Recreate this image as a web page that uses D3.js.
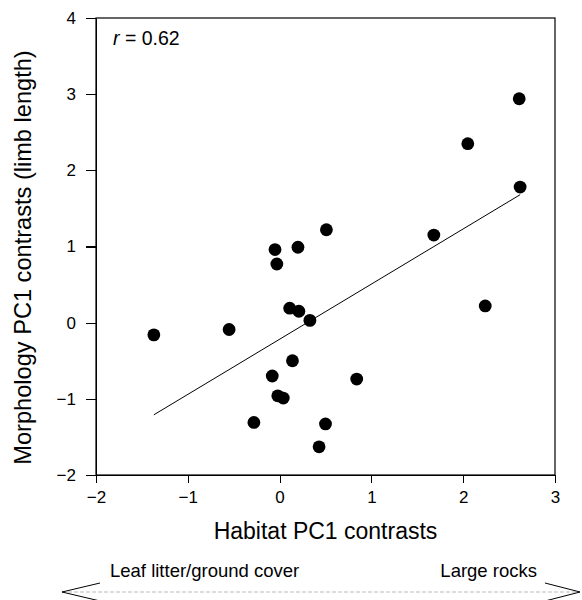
<!DOCTYPE html>
<html lang="en">
<head>
	<meta charset="utf-8">
	<title>habitat vs morphology contrasts</title>
	<script src="https://d3js.org/d3.v7.min.js"></script>
	<style type="text/css">
		body { margin: 0; background: #fff; }
		text { font-family: "Liberation Sans", Arial, sans-serif; fill: #000; }
		.Axis path, .Axis line { fill: none; stroke: #000; stroke-width: 1.2; shape-rendering: crispEdges; }
	</style>
</head>
<body>
	<svg id="placeholder1"></svg>
	<script type="text/javascript">
		// data
		var habitatX = [-1.37, -0.55, -0.05, -0.03, 0.20, 0.51, 0.11, 0.21, 0.33, 0.14, -0.08,
						-0.02, 0.04, -0.28, 0.50, 0.43, 0.84, 1.68, 2.05, 2.61, 2.62, 2.24]
		var morphY = [-0.16, -0.09, 0.96, 0.77, 0.99, 1.22, 0.19, 0.15, 0.03, -0.50, -0.70,
					  -0.96, -0.99, -1.31, -1.33, -1.63, -0.74, 1.15, 2.35, 2.94, 1.78, 0.22]
		// regression line end points
		var fitX = [-1.37, 2.62]
		var fitY = [-1.21, 1.68]
		var xTicks = [-2, -1, 0, 1, 2, 3]
		var yTicks = [-2, -1, 0, 1, 2, 3, 4]

		var wholeW = 582, wholeH = 600
		var margin = {left: 96, right: 27, top: 18, bottom: 125}
		var width = wholeW - margin.left - margin.right
		var height = wholeH - margin.top - margin.bottom

		var xScale = d3.scaleLinear().domain([-2, 3]).range([0, width])
		var yScale = d3.scaleLinear().domain([-2, 4]).range([height, 0])

		var fmt = d => d < 0 ? "\u2212" + Math.abs(d) : String(d)
		var xAxis = d3.axisBottom(xScale).tickValues(xTicks).tickSize(8).tickSizeOuter(0).tickPadding(8).tickFormat(fmt)
		var yAxis = d3.axisLeft(yScale).tickValues(yTicks).tickSize(10).tickSizeOuter(0).tickPadding(10).tickFormat(fmt)

		var root = d3.select("#placeholder1").attr("width", wholeW).attr("height", wholeH)
		var svg = root.append("g").attr("transform", "translate(" + margin.left + "," + margin.top + ")")

		// frame
		svg.append("rect")
			.attr("width", width).attr("height", height)
			.attr("fill", "none").attr("stroke", "#000").attr("stroke-width", 1.2)

		svg.append("g").attr("class", "x Axis")
			.attr("transform", "translate(0," + height + ")")
			.call(xAxis)
			.selectAll("text").style("font-size", "17px")

		svg.append("g").attr("class", "y Axis")
			.call(yAxis)
			.selectAll("text").style("font-size", "17px")

		// fit line
		var fit = fitX.map((x, i) => ({x: x, y: fitY[i]}))
		svg.append("path")
			.attr("d", d3.line().x(d => xScale(d.x)).y(d => yScale(d.y))(fit))
			.attr("stroke", "#000").attr("stroke-width", 1).attr("fill", "none")

		// points
		var pts = habitatX.map((x, i) => ({x: x, y: morphY[i]}))
		svg.selectAll("circle.pt").data(pts).enter().append("circle")
			.attr("class", "pt")
			.attr("cx", d => xScale(d.x))
			.attr("cy", d => yScale(d.y))
			.attr("r", 6.4)
			.attr("fill", "#000")

		// r label
		var rt = svg.append("text").attr("x", 17).attr("y", 27).style("font-size", "19.5px")
		rt.append("tspan").style("font-style", "italic").text("r")
		rt.append("tspan").text(" = 0.62")

		// axis titles
		svg.append("text")
			.attr("x", width / 2).attr("y", 539 - margin.top)
			.attr("text-anchor", "middle").style("font-size", "23px")
			.text("Habitat PC1 contrasts")

		svg.append("text")
			.attr("transform", "translate(" + (31 - margin.left) + "," + (height / 2 + 11) + ") rotate(-90)")
			.attr("text-anchor", "middle").style("font-size", "23.6px")
			.text("Morphology PC1 contrasts (limb length)")

		// habitat gradient arrow (absolute page coordinates)
		var ay = 592
		var ax0 = 62, ax1 = 580
		var page = root.append("g")
		page.append("line")
			.attr("x1", ax0).attr("x2", ax1).attr("y1", ay).attr("y2", ay)
			.attr("stroke", "#aaa").attr("stroke-width", 0.8).attr("stroke-dasharray", "4,2")
		var heads = page.append("g").attr("fill", "none").attr("stroke", "#000").attr("stroke-width", 1)
		heads.append("path").attr("d", "M" + (ax0 + 38) + "," + (ay - 9) + "L" + ax0 + "," + ay + "L" + (ax0 + 38) + "," + (ay + 9))
		heads.append("path").attr("d", "M" + (ax1 - 35) + "," + (ay - 9) + "L" + ax1 + "," + ay + "L" + (ax1 - 35) + "," + (ay + 9))

		page.append("text")
			.attr("x", 110).attr("y", 577)
			.style("font-size", "18.5px")
			.text("Leaf litter/ground cover")
		page.append("text")
			.attr("x", 537).attr("y", 577)
			.attr("text-anchor", "end").style("font-size", "18.5px")
			.text("Large rocks")
	</script>
</body>
</html>
